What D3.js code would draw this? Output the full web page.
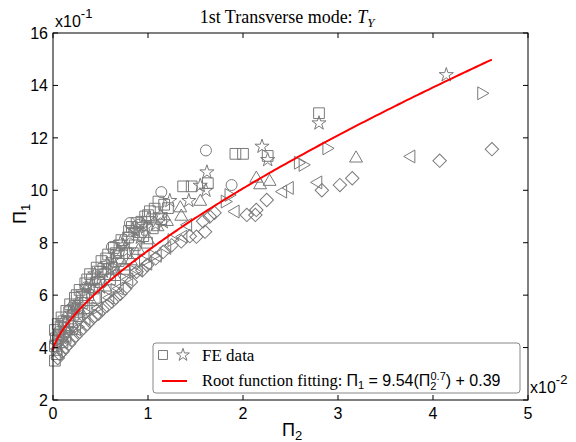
<!DOCTYPE html>
<html><head><meta charset="utf-8">
<script src="https://cdn.jsdelivr.net/npm/d3@7"></script>
<style>
body{margin:0;background:#fff;}
svg{display:block;}
.sans{font-family:"Liberation Sans",Arial,sans-serif;}
.serif{font-family:"Liberation Serif","Times New Roman",serif;}
</style></head>
<body><svg id="c" width="576" height="442"></svg>
<script>
// ---- data (x in units of 1e-2, y in units of 1e-1) ----
const xTicks = [0,1,2,3,4,5];
const yTicks = [2,4,6,8,10,12,14,16];
const fitCoef = 9.54, fitExp = 0.7, fitConst = 0.39;
const fitSampleX = [0,0.005,0.01,0.02,0.04,0.06,0.08,0.1,0.15,0.2,0.3,0.4,0.5,0.6,0.8,1.0,1.2,1.4,1.6,1.8,2.0,2.3,2.6,3.0,3.4,3.8,4.2,4.62];

const squares = [[0.02,3.5],[0.04,3.75],[0.02,4.05],[0.03,4.35],[0.02,4.67],[0.05,4.9],[0.07,4.5],[0.09,5.15],[0.1,4.2],[0.12,4.75],[0.14,5.4],[0.16,5.0],[0.18,5.65],[0.21,5.25],[0.23,5.9],[0.26,5.45],[0.28,6.2],[0.31,5.7],[0.34,6.45],[0.37,6.0],[0.39,6.8],[0.43,6.25],[0.46,7.05],[0.49,6.5],[0.51,7.3],[0.55,6.8],[0.58,7.55],[0.62,7.05],[0.64,7.8],[0.69,7.3],[0.72,8.1],[0.77,7.6],[0.8,8.45],[0.86,7.9],[0.88,8.75],[0.95,8.25],[0.97,9.0],[1.02,9.2],[1.05,8.55],[1.11,9.57],[1.14,8.9],[1.21,9.32],[1.37,10.15],[1.46,10.15],[1.63,10.27],[1.92,11.39],[2.0,11.39],[2.26,11.31],[2.8,12.94],
  [0.05,4.3],[0.08,4.8],[0.11,5.0],[0.13,4.45],[0.17,5.35],[0.2,4.7],[0.22,5.5],[0.25,6.0],[0.27,5.2],[0.3,6.0],[0.33,5.5],[0.36,6.6],[0.41,6.6],[0.44,5.9],[0.47,6.9],[0.53,7.0],[0.56,7.4],[0.6,6.6],[0.66,7.6],[0.7,7.9],[0.75,7.0],[0.79,8.2],[0.83,8.6],[0.84,7.6],[0.9,8.4],[0.93,8.8],[0.99,8.0],[1.0,9.05],[1.07,9.3],[1.17,9.45]];
const stars = [[0.04,4.2],[0.08,4.55],[0.13,4.95],[0.19,5.3],[0.25,5.7],[0.32,6.05],[0.4,6.35],[0.47,6.58],[0.53,6.9],[0.6,6.96],[0.63,7.34],[0.68,7.65],[0.74,7.9],[0.81,8.3],[0.87,8.45],[0.95,8.68],[1.0,8.9],[1.13,9.06],[1.16,8.79],[1.23,9.6],[1.43,9.6],[1.55,10.18],[1.61,9.99],[1.62,10.69],[2.2,11.67],[2.26,11.16],[2.8,12.56],[4.14,14.4],
  [0.1,5.0],[0.16,4.7],[0.22,5.55],[0.28,5.5],[0.35,6.3],[0.44,6.8],[0.5,6.3],[0.57,7.2],[0.66,7.1],[0.71,8.0],[0.78,7.7],[0.84,8.5],[0.92,8.2],[0.98,8.6],[1.08,8.7]];
const circles = [[0.06,4.6],[0.35,6.3],[0.62,7.84],[0.81,8.75],[0.9,8.68],[1.14,9.93],[1.61,11.52],[1.88,10.2]];
const trianglesUp = [[0.1,4.35],[0.3,5.3],[0.55,6.3],[0.75,7.1],[0.9,7.7],[1.0,8.1],[1.1,8.6],[1.2,8.8],[1.34,9.32],[1.35,9.0],[1.55,9.57],[2.14,10.45],[2.18,10.2],[2.28,10.33],[3.19,11.22],
  [0.2,4.9],[0.4,5.75],[0.65,6.7],[0.82,7.3]];
const trianglesLeft = [[0.15,4.4],[0.35,5.1],[0.6,5.9],[0.8,6.6],[1.0,7.2],[1.2,7.8],[1.37,8.23],[1.42,8.68],[1.92,9.19],[2.42,9.95],[2.49,10.09],[2.79,10.3],[3.77,11.29],
  [0.05,3.95],[0.25,4.7],[0.48,5.5],[0.7,6.25],[0.9,6.95],[1.1,7.5]];
const trianglesRight = [[0.08,4.1],[0.25,4.8],[0.45,5.5],[0.65,6.2],[0.85,6.9],[1.05,7.5],[1.25,8.1],[1.81,9.57],[1.85,9.82],[2.58,11.05],[2.63,10.97],[2.88,11.6],[4.51,13.7],
  [0.15,4.6],[0.35,5.3],[0.55,5.95],[0.75,6.6],[0.95,7.3]];
const diamonds = [[0.05,3.6],[0.1,3.85],[0.17,4.15],[0.24,4.45],[0.32,4.75],[0.4,5.05],[0.48,5.3],[0.57,5.6],[0.66,5.9],[0.76,6.25],[0.88,6.89],[0.99,7.15],[1.08,7.4],[1.16,7.65],[1.25,7.9],[1.35,8.05],[1.44,8.25],[1.51,8.23],[1.6,8.42],[1.58,8.82],[1.65,9.0],[1.7,9.14],[2.04,9.06],[2.13,9.06],[2.14,9.25],[2.25,9.63],[2.83,10.0],[3.02,10.2],[3.15,10.46],[4.07,11.13],[4.62,11.57],
  [0.07,3.75],[0.13,4.0],[0.2,4.3],[0.28,4.6],[0.36,4.9],[0.44,5.2],[0.52,5.45],[0.62,5.75],[0.71,6.05],[0.82,6.5],[0.94,6.95]];

// ---- layout ----
const L=53, R=528, T=33, B=400;
const svg = d3.select("#c");
const x = d3.scaleLinear().domain([0,5]).range([L,R]);
const y = d3.scaleLinear().domain([2,16]).range([B,T]);
const gray = "#7a7a7a";

// markers
const g = svg.append("g");
function drawSym(data, type, size, rot){
  g.selectAll(null).data(data).enter().append("path")
    .attr("d", d3.symbol().type(type).size(size))
    .attr("transform", d=>`translate(${x(d[0])},${y(d[1])}) rotate(${rot})`)
    .attr("fill","none").attr("stroke",gray).attr("stroke-width",1);
}
drawSym(squares, d3.symbolSquare, 115, 0);
drawSym(stars, d3.symbolStar, 62, 0);
drawSym(circles, d3.symbolCircle, 95, 0);
drawSym(trianglesUp, d3.symbolTriangle, 72, 0);
drawSym(trianglesLeft, d3.symbolTriangle, 72, -90);
drawSym(trianglesRight, d3.symbolTriangle, 72, 90);
drawSym(diamonds, d3.symbolSquare, 90, 45);

// fit line
const fitY = xv => 10*(fitCoef*Math.pow(xv/100, fitExp) + fitConst);
const fine = [];
fitSampleX.forEach((v,i)=>{ if(i>0){ const a=fitSampleX[i-1]; for(let k=1;k<=10;k++){ fine.push(a+(v-a)*k/10);} } else fine.push(v); });
svg.append("path").datum(fine)
  .attr("d", d3.line().x(d=>x(d)).y(d=>y(fitY(d))))
  .attr("fill","none").attr("stroke","#ff0000").attr("stroke-width",2);

// axes frame
const ax = svg.append("g").attr("class","sans");
ax.append("rect").attr("x",L).attr("y",T).attr("width",R-L).attr("height",B-T)
  .attr("fill","none").attr("stroke","#000").attr("stroke-width",1);
const tl = 5;
xTicks.forEach(t=>{
  ax.append("line").attr("x1",x(t)).attr("x2",x(t)).attr("y1",B).attr("y2",B-tl).attr("stroke","#000");
  ax.append("line").attr("x1",x(t)).attr("x2",x(t)).attr("y1",T).attr("y2",T+tl).attr("stroke","#000");
  ax.append("text").attr("x",x(t)).attr("y",B+19).attr("text-anchor","middle").attr("font-size",16).text(t);
});
yTicks.forEach(t=>{
  ax.append("line").attr("x1",L).attr("x2",L+tl).attr("y1",y(t)).attr("y2",y(t)).attr("stroke","#000");
  ax.append("line").attr("x1",R).attr("x2",R-tl).attr("y1",y(t)).attr("y2",y(t)).attr("stroke","#000");
  ax.append("text").attr("x",L-5).attr("y",y(t)+6).attr("text-anchor","end").attr("font-size",16).text(t);
});

// exponent labels
const e1 = ax.append("text").attr("x",55).attr("y",27).attr("font-size",16);
e1.append("tspan").text("x10");
e1.append("tspan").attr("dy",-9).attr("font-size",13).text("-1");
const e2 = ax.append("text").attr("x",530).attr("y",393).attr("font-size",16);
e2.append("tspan").text("x10");
e2.append("tspan").attr("dy",-9).attr("font-size",13).text("-2");

// title
const tt = svg.append("text").attr("class","serif").attr("x",287).attr("y",23)
  .attr("text-anchor","middle").attr("font-size",18);
tt.append("tspan").text("1st Transverse mode: ");
tt.append("tspan").attr("font-style","italic").text("T");
tt.append("tspan").attr("font-style","italic").attr("font-size",13).attr("dy",4).text("Y");

// axis labels
const xl = svg.append("text").attr("class","sans").attr("x",282).attr("y",436).attr("font-size",18);
xl.append("tspan").text("\u03A0");
xl.append("tspan").attr("font-size",13).attr("dy",4).text("2");
const yl = svg.append("text").attr("class","sans").attr("transform","translate(26,224) rotate(-90)").attr("font-size",18);
yl.append("tspan").text("\u03A0");
yl.append("tspan").attr("font-size",13).attr("dy",4).text("1");

// legend
const lg = svg.append("g");
lg.append("rect").attr("x",153).attr("y",343).attr("width",367).attr("height",50).attr("rx",3)
  .attr("fill","#fff").attr("stroke","#888").attr("stroke-width",1);
lg.append("path").attr("d",d3.symbol().type(d3.symbolSquare).size(80)()).attr("transform","translate(163,355)")
  .attr("fill","none").attr("stroke",gray);
lg.append("path").attr("d",d3.symbol().type(d3.symbolStar).size(50)()).attr("transform","translate(183,355)")
  .attr("fill","none").attr("stroke",gray);
lg.append("text").attr("class","serif").attr("x",202).attr("y",361).attr("font-size",17).text("FE data");
lg.append("line").attr("x1",162).attr("x2",187).attr("y1",381).attr("y2",381).attr("stroke","#ff0000").attr("stroke-width",2);
const lt = lg.append("text").attr("x",202).attr("y",386).attr("font-size",16);
lt.append("tspan").attr("class","serif").attr("font-size",16.5).text("Root function fitting: ");
lt.append("tspan").attr("class","sans").text("\u03A0");
lt.append("tspan").attr("class","sans").attr("font-size",11).attr("dy",3).text("1");
lt.append("tspan").attr("class","sans").attr("dy",-3).text(" = 9.54(\u03A0");
lt.append("tspan").attr("class","sans").attr("font-size",11).attr("dy",4).text("2");
lt.append("tspan").attr("class","sans").attr("font-size",11).attr("dy",-10).attr("dx",-6).text("0.7");
lt.append("tspan").attr("class","sans").attr("dy",6).text(") + 0.39");
</script></body></html>
